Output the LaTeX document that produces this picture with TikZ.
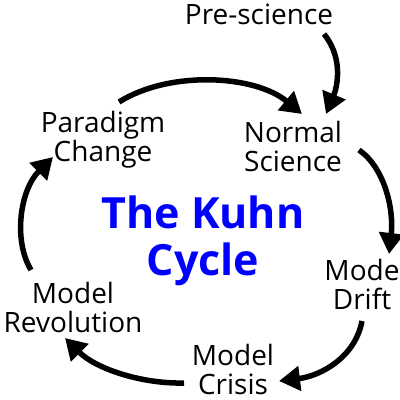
\documentclass[tikz,border=0pt]{standalone}
\usepackage{fontspec}
\setmainfont{Open Sans}
\usetikzlibrary{arrows.meta}
\begin{document}
\begin{tikzpicture}[x=1pt,y=-1pt,
  lbl/.style={align=center,font=\fontsize{28}{29}\selectfont,inner sep=0pt},
  title/.style={align=center,text=blue,font=\fontsize{43}{47}\selectfont\bfseries,inner sep=0pt},
  arr/.style={line width=5.5pt,-{Triangle[length=21pt,width=24pt]}}]
\fill[white] (0,0) rectangle (400,400);
\useasboundingbox (0,0) rectangle (400,400);
\node[lbl] (pre) at (259,14) {Pre-science};
\node[lbl] (normal) at (293,146) {Normal\\Science};
\node[lbl] (paradigm) at (103,140) {Paradigm\\Change};
\node[title] (kuhn) at (203,241) {The Kuhn\\Cycle};
\node[lbl] (drift) at (362,284) {Mode\\Drift};
\node[lbl] (revol) at (73,307) {Model\\Revolution};
\node[lbl] (crisis) at (233,369) {Model\\Crisis};
\coordinate (p1) at (324,34);
\coordinate (p2) at (326,114);
\coordinate (c1) at (119,102);
\coordinate (c2) at (302,114);
\coordinate (n1) at (359,150);
\coordinate (n2) at (389,254);
\coordinate (d1) at (362,321);
\coordinate (d2) at (279,381);
\coordinate (m1) at (184,383);
\coordinate (m2) at (65,338);
\coordinate (r1) at (31,270);
\coordinate (r2) at (53,157);
\draw[arr] (p1) .. controls (345,60) and (336,90) .. (p2);
\draw[arr] (c1) .. controls (170,70) and (255,75) .. (c2);
\draw[arr] (n1) .. controls (385,168) and (394,210) .. (n2);
\draw[arr] (d1) .. controls (355,358) and (320,376) .. (d2);
\draw[arr] (m1) .. controls (140,384) and (95,368) .. (m2);
\draw[arr] (r1) .. controls (13,240) and (20,190) .. (r2);
\end{tikzpicture}
\end{document}
